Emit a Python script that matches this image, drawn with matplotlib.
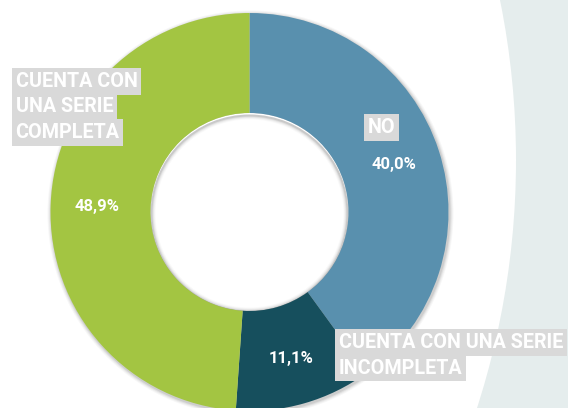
import matplotlib
matplotlib.use('Agg')
import matplotlib.pyplot as plt
from matplotlib.patches import Circle, Wedge

# datos del gráfico
categorias = ['NO', 'CUENTA CON UNA SERIE INCOMPLETA', 'CUENTA CON UNA SERIE COMPLETA']
valores = [40.0, 11.1, 48.9]
colores = ['#5990AE', '#164F5D', '#A3C542']

# lineas de las etiquetas (como aparecen en la lámina)
lineas_no = ['NO']
lineas_incompleta = ['CUENTA CON UNA SERIE', 'INCOMPLETA']
lineas_completa = ['CUENTA CON', 'UNA SERIE', 'COMPLETA']

W, H = 568, 408
def py(y):
    return H - y

CX, CY = 249.5, py(212)
R_EXT, R_INT = 199, 99

fig = plt.figure(figsize=(W / 100, H / 100), dpi=100)
fig.patch.set_facecolor('#E5EDED')
ax = fig.add_axes([0, 0, 1, 1])
ax.set_facecolor('none')

# fondo blanco (gran círculo que deja la franja gris a la derecha)
ax.add_patch(Circle((-292, py(160)), 808, color='white', lw=0, zorder=0))

# sombra exterior suave
for dr, a in [(4, 0.03), (3, 0.04), (2, 0.06), (1, 0.08)]:
    ax.add_patch(Circle((CX + 1, CY - 1.5), R_EXT + dr, color='black',
                        alpha=a, lw=0, zorder=1))
ax.add_patch(Circle((CX, CY), R_INT, color='white', lw=0, zorder=2))

# sombra interior del hueco (queda debajo del anillo)
for dr, a in [(2, 0.10), (3, 0.06), (4, 0.04), (5, 0.025)]:
    ax.add_patch(Wedge((CX, CY - 1.5), R_INT, 0, 360, width=dr,
                       color='black', alpha=a, lw=0, zorder=2.5))

wedges, textos, pcts = ax.pie(
    valores, colors=colores, startangle=90, counterclock=False,
    radius=R_EXT, center=(CX, CY),
    wedgeprops=dict(width=R_EXT - R_INT, linewidth=0, zorder=3),
    autopct=lambda p: f'{p:.1f}%'.replace('.', ','),
    pctdistance=0.765,
    textprops=dict(color='white', fontsize=12, fontweight='bold',
                   family='Roboto'),
)
for t in pcts:
    t.set_zorder(6)

ax.set_xlim(0, W)
ax.set_ylim(0, H)
ax.set_aspect('auto')
ax.axis('off')

caja = dict(boxstyle='square,pad=0.18', fc='#D9D9D9', ec='none')
def etiqueta(lineas, x, y0, paso=25.5):
    for i, txt in enumerate(lineas):
        ax.text(x, py(y0 + i * paso), txt, ha='left', va='center',
                color='white', fontsize=14.2, fontweight='bold',
                family='Roboto', bbox=caja, zorder=7)

etiqueta(lineas_completa, 15.5, 81.5)
etiqueta(lineas_no, 368, 127.5)
etiqueta(lineas_incompleta, 339, 342.5)

fig.savefig('out.png', dpi=100, facecolor=fig.get_facecolor())
